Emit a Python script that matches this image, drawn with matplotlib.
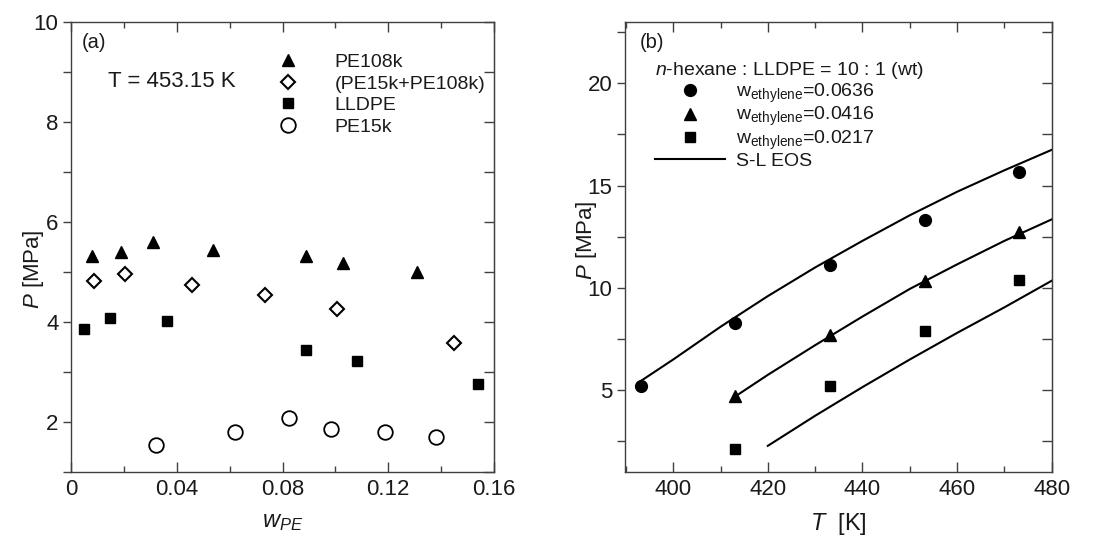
import numpy as np
import matplotlib
matplotlib.use('Agg')
import matplotlib.pyplot as plt
from matplotlib.ticker import MultipleLocator
from matplotlib.lines import Line2D

plt.rcParams['font.family'] = ['Liberation Sans', 'DejaVu Sans']
plt.rcParams['mathtext.fontset'] = 'custom'
plt.rcParams['mathtext.rm'] = 'Liberation Sans'
plt.rcParams['mathtext.it'] = 'Liberation Sans:italic'

# (a) T = 453.15 K, pressure vs polymer weight fraction
w_pe108k = [0.0078, 0.0188, 0.0311, 0.0538, 0.0889, 0.103, 0.131]
p_pe108k = [5.31, 5.39, 5.59, 5.44, 5.31, 5.17, 5.00]
w_mix = [0.0088, 0.0205, 0.0458, 0.0734, 0.1005, 0.1447]
p_mix = [4.82, 4.95, 4.74, 4.53, 4.26, 3.58]
w_lldpe = [0.0049, 0.0149, 0.0363, 0.0888, 0.1083, 0.1538]
p_lldpe = [3.86, 4.07, 4.01, 3.43, 3.21, 2.76]
w_pe15k = [0.0321, 0.0621, 0.0823, 0.0983, 0.1188, 0.1379]
p_pe15k = [1.55, 1.81, 2.09, 1.87, 1.80, 1.70]

# (b) n-hexane : LLDPE = 10 : 1, pressure vs temperature
t_exp = [393.15, 413.15, 433.15, 453.15, 473.15]
p_0636 = [5.22, 8.29, 11.10, 13.33, 15.65]
t_exp2 = [413.15, 433.15, 453.15, 473.15]
p_0416 = [4.70, 7.68, 10.36, 12.72]
p_0217 = [2.13, 5.21, 7.90, 10.38]

# S-L EOS curves
t_eos1 = [393.15, 400, 410, 420, 430, 440, 450, 460, 470, 480]
p_eos1 = [5.45, 6.5, 8.1, 9.6, 11.0, 12.3, 13.55, 14.7, 15.75, 16.75]
t_eos2 = [413.15, 420, 430, 440, 450, 460, 470, 480]
p_eos2 = [4.7, 5.75, 7.2, 8.6, 9.95, 11.15, 12.3, 13.35]
t_eos3 = [420, 430, 440, 450, 460, 470, 480]
p_eos3 = [2.28, 3.75, 5.15, 6.5, 7.8, 9.05, 10.35]

spine_c = '#404040'
txt_c = '#1a1a1a'

fig = plt.figure(figsize=(11.03, 5.39), dpi=100)
ax1 = fig.add_axes([0.0644, 0.1243, 0.3835, 0.8349])
ax2 = fig.add_axes([0.5666, 0.1243, 0.3869, 0.8349])


def style_axes(ax):
  for s in ax.spines.values():
    s.set_color(spine_c)
    s.set_linewidth(1.0)
  ax.tick_params(axis='x', which='both', direction='in', top=True, colors=spine_c,
                 labelcolor=txt_c, labelsize=16, pad=5)
  ax.tick_params(axis='x', which='major', length=7, width=1.0)
  ax.tick_params(axis='x', which='minor', length=4, width=1.0)
  ax.tick_params(axis='y', which='both', direction='out', right=False, colors=spine_c,
                 labelcolor=txt_c, labelsize=16, pad=3)
  ax.tick_params(axis='y', which='major', length=6, width=1.0)
  ax.tick_params(axis='y', which='minor', length=6, width=1.0)
  sec = ax.secondary_yaxis('right')
  sec.yaxis.set_major_locator(ax.yaxis.get_major_locator())
  sec.yaxis.set_minor_locator(ax.yaxis.get_minor_locator())
  sec.tick_params(which='both', direction='in', labelright=False, colors=spine_c)
  sec.tick_params(which='major', length=7, width=1.0)
  sec.tick_params(which='minor', length=7, width=1.0)
  sec.spines['right'].set_color(spine_c)


# ---- panel (a)
ax1.plot(w_pe108k, p_pe108k, '^', color='black', ms=8.5, ls='none', label='PE108k')
ax1.plot(w_mix, p_mix, 'D', mfc='white', mec='black', mew=1.5, ms=7, ls='none',
         label='(PE15k+PE108k)')
ax1.plot(w_lldpe, p_lldpe, 's', color='black', ms=7.5, ls='none', label='LLDPE')
ax1.plot(w_pe15k, p_pe15k, 'o', mfc='white', mec='black', mew=1.3, ms=10.5, ls='none',
         label='PE15k')
ax1.set_xlim(0, 0.16)
ax1.set_ylim(1, 10)
ax1.xaxis.set_major_locator(MultipleLocator(0.04))
ax1.xaxis.set_minor_locator(MultipleLocator(0.02))
ax1.yaxis.set_major_locator(MultipleLocator(2))
ax1.yaxis.set_minor_locator(MultipleLocator(1))
ax1.set_xticks([0, 0.04, 0.08, 0.12, 0.16])
ax1.set_xticklabels(['0', '0.04', '0.08', '0.12', '0.16'])
style_axes(ax1)
ax1.set_xlabel(r'$w_{PE}$', fontsize=17, color=txt_c, labelpad=8)
ax1.set_ylabel(r'$P$ [MPa]', fontsize=16, color=txt_c)
ax1.yaxis.set_label_coords(-0.058, 0.45)
ax1.text(0.025, 0.955, '(a)', transform=ax1.transAxes, fontsize=14.5, color=txt_c,
         va='center', ha='left')
ax1.text(0.087, 0.867, 'T = 453.15 K', transform=ax1.transAxes, fontsize=16,
         color=txt_c, va='center', ha='left')
leg1 = ax1.legend(loc='upper left', bbox_to_anchor=(0.49, 0.93), frameon=False,
                  fontsize=14, handlelength=1.0, handletextpad=1.9, labelspacing=0.2,
                  borderpad=0, borderaxespad=0)
for t in leg1.get_texts():
  t.set_color(txt_c)

# ---- panel (b)
ax2.plot(t_eos1, p_eos1, '-', color='black', lw=1.5)
ax2.plot(t_eos2, p_eos2, '-', color='black', lw=1.5)
ax2.plot(t_eos3, p_eos3, '-', color='black', lw=1.5)
ax2.plot(t_exp, p_0636, 'o', color='black', ms=8.5, ls='none')
ax2.plot(t_exp2, p_0416, '^', color='black', ms=8.5, ls='none')
ax2.plot(t_exp2, p_0217, 's', color='black', ms=7.5, ls='none')
ax2.set_xlim(389.8, 480)
ax2.set_ylim(1, 23)
ax2.xaxis.set_major_locator(MultipleLocator(20))
ax2.xaxis.set_minor_locator(MultipleLocator(10))
ax2.yaxis.set_major_locator(MultipleLocator(5))
ax2.yaxis.set_minor_locator(MultipleLocator(2.5))
style_axes(ax2)
ax2.set_xlabel(r'$T$  [K]', fontsize=17, color=txt_c, labelpad=8)
ax2.set_ylabel(r'$P$ [MPa]', fontsize=16, color=txt_c)
ax2.yaxis.set_label_coords(-0.062, 0.515)
ax2.text(0.035, 0.955, '(b)', transform=ax2.transAxes, fontsize=14.5, color=txt_c,
         va='center', ha='left')
handles = [
  Line2D([], [], marker='o', color='black', ls='none', ms=8.5),
  Line2D([], [], marker='^', color='black', ls='none', ms=8.5),
  Line2D([], [], marker='s', color='black', ls='none', ms=7.5),
  Line2D([], [], color='black', lw=1.5),
]
labels = [r'w$_\mathregular{ethylene}$=0.0636', r'w$_\mathregular{ethylene}$=0.0416',
          r'w$_\mathregular{ethylene}$=0.0217', 'S-L EOS']
leg2 = ax2.legend(handles, labels, loc='upper left', bbox_to_anchor=(0.07, 0.915),
                  frameon=False, fontsize=14, handlelength=3.6, handletextpad=0.6,
                  labelspacing=0.02, borderpad=0, borderaxespad=0,
                  title=r'$n$-hexane : LLDPE = 10 : 1 (wt)', title_fontsize=14,
                  alignment='left')
for t in leg2.get_texts():
  t.set_color(txt_c)
leg2.get_title().set_color(txt_c)

plt.savefig('out.png', dpi=100)
